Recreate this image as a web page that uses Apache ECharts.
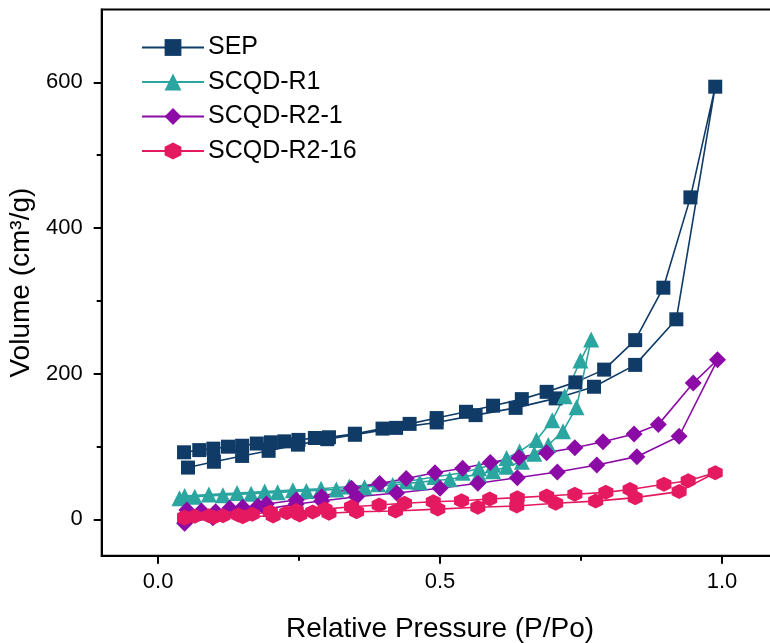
<!DOCTYPE html>
<html>
<head>
<meta charset="utf-8">
<script src="https://cdn.jsdelivr.net/npm/echarts@6/dist/echarts.min.js"></script>
<style>
  html, body { margin: 0; padding: 0; background: #fff; }
  #main { width: 770px; height: 643px; }
</style>
</head>
<body>
<div id="main"></div>
<script>
// isotherm loops: adsorption branch up, then desorption branch back down
const seriesNames = ['SEP', 'SCQD-R1', 'SCQD-R2-1', 'SCQD-R2-16'];

const sepP = [0.053, 0.099, 0.149, 0.196, 0.248, 0.300, 0.349, 0.422, 0.494, 0.563, 0.634, 0.705, 0.773, 0.846, 0.919, 0.988,
  0.944, 0.896, 0.846, 0.791, 0.740, 0.689, 0.645, 0.594, 0.546, 0.494, 0.446, 0.398, 0.349, 0.303, 0.278, 0.249, 0.224, 0.200, 0.175, 0.149, 0.124, 0.098, 0.073, 0.046];
const sepV = [71, 79, 87, 94, 102.5, 110, 116, 125.5, 133, 143, 153, 166, 182, 212, 274.6, 594,
  442, 318, 246, 205.5, 188, 175, 165, 156, 147.6, 139, 131, 124.5, 117.5, 112.6, 111.6, 109, 107, 105.7, 104, 101, 99.7, 97, 95, 92];

const r1P = [0.038, 0.065, 0.115, 0.165, 0.212, 0.263, 0.316, 0.366, 0.416, 0.464, 0.517, 0.569, 0.594, 0.618, 0.645, 0.667, 0.692, 0.718, 0.742, 0.768,
  0.749, 0.721, 0.699, 0.671, 0.641, 0.618, 0.594, 0.569, 0.540, 0.490, 0.440, 0.390, 0.339, 0.289, 0.239, 0.189, 0.140, 0.090, 0.047];
const r1V = [29, 31, 33, 35, 37, 39, 41, 44, 47, 51, 55, 62, 66, 72, 79, 90, 102, 121, 154, 247,
  218, 169, 136, 109, 93, 84, 75, 70, 64, 58, 52, 48, 45, 42, 40, 38, 36, 34, 32];

const r21P = [0.047, 0.097, 0.150, 0.192, 0.245, 0.290, 0.352, 0.423, 0.500, 0.567, 0.637, 0.708, 0.778, 0.849, 0.924, 0.992,
  0.949, 0.887, 0.844, 0.789, 0.739, 0.689, 0.640, 0.589, 0.540, 0.491, 0.440, 0.393, 0.343, 0.290, 0.245, 0.192, 0.177, 0.150, 0.127, 0.102, 0.077, 0.051];
const r21V = [-5.5, 2, 9, 14, 21, 25, 31, 36, 42.6, 49.4, 57, 65, 74.6, 86, 114, 219,
  187, 130, 117, 106.5, 98.3, 91.5, 85, 78, 70, 64, 56, 49, 42.6, 31, 26.5, 21, 18, 16.5, 15, 10.4, 11.4, 12.8];

const r216P = [0.047, 0.099, 0.150, 0.204, 0.251, 0.303, 0.352, 0.421, 0.496, 0.567, 0.636, 0.705, 0.776, 0.846, 0.924, 0.988,
  0.940, 0.897, 0.837, 0.794, 0.739, 0.689, 0.637, 0.588, 0.538, 0.488, 0.437, 0.392, 0.343, 0.296, 0.274, 0.245, 0.228, 0.199, 0.167, 0.142, 0.115, 0.090, 0.065, 0.047];
const r216V = [1.4, 2.7, 3.6, 4.5, 6, 8.2, 10.4, 11.4, 14, 16.5, 18.3, 22, 25, 29.7, 38, 64,
  53, 48, 41, 37, 34.3, 32, 29.7, 27.9, 25.5, 24, 22, 19.6, 17.3, 14, 10, 12, 9, 10, 7, 6, 5, 5, 4, 3];

const xTicks = [0, 0.5, 1.0];
const xMinorTicks = [0.25, 0.75];
const yTicks = [0, 200, 400, 600];
const yMinorTicks = [100, 300, 500];

const colors = ['#0f3b66', '#2aa59f', '#8c0aa6', '#e5195f'];
const hexagon = 'path://M0,-1 L0.866,-0.5 L0.866,0.5 L0,1 L-0.866,0.5 L-0.866,-0.5 Z';
const symbols = ['rect', 'triangle', 'diamond', hexagon];
const sizes = [14, 16, 17, 15];

function zip(xs, ys) {
  return xs.map((x, i) => [x, ys[i]]);
}
const allData = [zip(sepP, sepV), zip(r1P, r1V), zip(r21P, r21V), zip(r216P, r216V)];

const font = 'Arial, "Liberation Sans", sans-serif';
const chart = echarts.init(document.getElementById('main'), null, { renderer: 'canvas' });

const option = {
  animation: false,
  backgroundColor: '#fff',
  grid: {
    left: 101.7, top: 9.5, width: 676.7, bottom: 87.3,
    outerBoundsMode: 'none',
    containLabel: false,
    show: true, borderColor: '#000', borderWidth: 2
  },
  legend: {
    orient: 'vertical',
    left: 136, top: 30,
    itemWidth: 62, itemHeight: 21, itemGap: 9.5,
    textStyle: { fontSize: 25, fontFamily: font, color: '#000', padding: [0, 0, 0, -1] },
    data: seriesNames
  },
  xAxis: [
    {
      type: 'value', min: -0.1, max: 1.1,
      name: 'Relative Pressure (P/Po)', nameLocation: 'middle', nameGap: 60,
      nameTextStyle: { fontSize: 28, fontFamily: font, color: '#000' },
      axisLine: { onZero: false, lineStyle: { color: '#000', width: 2 } },
      axisTick: { customValues: xTicks, length: 8, inside: false, lineStyle: { color: '#000', width: 2 } },
      axisLabel: { customValues: xTicks, margin: 15, fontSize: 22, fontFamily: font, color: '#000',
        formatter: v => v.toFixed(1) },
      splitLine: { show: false }
    },
    {
      type: 'value', min: -0.1, max: 1.1, position: 'bottom',
      axisLine: { show: false, onZero: false },
      axisTick: { customValues: xMinorTicks, length: 5, lineStyle: { color: '#000', width: 2 } },
      axisLabel: { show: false },
      splitLine: { show: false }
    }
  ],
  yAxis: [
    {
      type: 'value', min: -50, max: 700,
      name: 'Volume (cm³/g)', nameLocation: 'middle', nameGap: 56,
      nameTextStyle: { fontSize: 28, fontFamily: font, color: '#000' },
      axisLine: { show: true, onZero: false, lineStyle: { color: '#000', width: 2 } },
      axisTick: { show: true, customValues: yTicks, length: 8, lineStyle: { color: '#000', width: 2 } },
      axisLabel: { customValues: yTicks, margin: 19, fontSize: 22, fontFamily: font, color: '#000' },
      splitLine: { show: false }
    },
    {
      type: 'value', min: -50, max: 700, position: 'left', offset: 0,
      axisLine: { show: false, onZero: false },
      axisTick: { show: true, customValues: yMinorTicks, length: 5, lineStyle: { color: '#000', width: 2 } },
      axisLabel: { show: false },
      splitLine: { show: false }
    }
  ],
  series: seriesNames.map((name, i) => ({
    name: name,
    type: 'line',
    xAxisIndex: 0,
    yAxisIndex: 0,
    data: allData[i],
    symbol: symbols[i],
    symbolSize: sizes[i],
    showAllSymbol: true,
    color: colors[i],
    itemStyle: { color: colors[i] },
    lineStyle: { color: colors[i], width: 1.6 },
    emphasis: { disabled: true }
  }))
};
chart.setOption(option);
</script>
</body>
</html>
